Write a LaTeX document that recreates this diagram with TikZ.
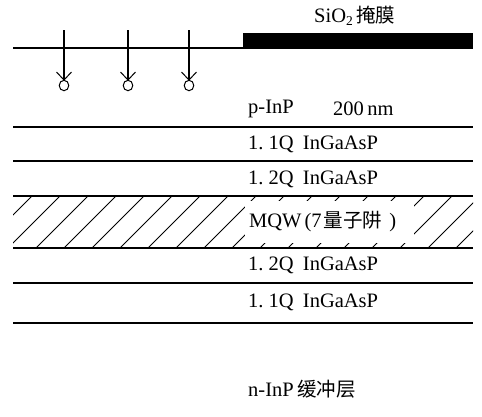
\documentclass[tikz,border=0pt]{standalone}
\usepackage{fontspec}
\setmainfont{Liberation Serif}
\newfontfamily\cjk{Noto Sans CJK SC}
\begin{document}
\begin{tikzpicture}[x=1pt,y=-1pt,
  layer/.style={line width=1.4pt},
  hatchline/.style={line width=0.9pt},
  beam/.style={line width=1.2pt},
  lbl/.style={anchor=west, inner sep=0pt, font=\fontsize{20.5}{24}\selectfont}]
\newcommand\cjktext[1]{{\fontsize{19.5}{24}\selectfont\cjk #1}}
\useasboundingbox (0,0) rectangle (482,416);

% surface and SiO2 mask
\coordinate (s0) at (13,48);
\coordinate (s1) at (243,48);
\draw[line width=1.3pt] (s0) -- (s1);
\fill (243,33) rectangle (473,49);
\node[lbl] (sio) at (314,16) {SiO\raisebox{-0.35ex}{\fontsize{13.5}{14}\selectfont 2}\,\cjktext{掩膜}};

% implantation arrows
\foreach \x/\n in {64/a,128/b,189/c}{
  \coordinate (\n top) at (\x,30);
  \coordinate (\n tip) at (\x,80);
  \coordinate (\n l) at (\x-7.5,72);
  \coordinate (\n r) at (\x+7.5,72);
  \draw[beam] (\n top) -- (\n tip);
  \draw[line width=1pt] (\n l) -- (\n tip) -- (\n r);
  \draw[line width=1pt] (\x,85.5) ellipse (4.8 and 5.2);
}

% hatched MQW region
\begin{scope}
  \clip (13,196) rectangle (473,248);
  \foreach \k in {0,...,18}
    \draw[hatchline] ({-20+28*\k},248) -- ({32+28*\k},196);
\end{scope}
\fill[white] (245,201) rectangle (414,243);

% layer boundaries
\foreach \y/\n in {127/l1,161/l2,196/l3,248/l4,283/l5,323/l6}{
  \coordinate (\n a) at (13,\y);
  \coordinate (\n b) at (473,\y);
  \draw[layer] (\n a) -- (\n b);
}

% labels
\node[lbl] (pinp) at (248,109) {p-InP};
\node[lbl] (thick) at (333,109) {200\,nm};
\node[lbl] (q11a) at (248,144) {1.\ 1Q\hspace{0.45em}InGaAsP};
\node[lbl] (q12a) at (248,179) {1.\ 2Q\hspace{0.45em}InGaAsP};
\node[lbl] (mqw) at (249,222) {MQW\hspace{0.15em}(7\hspace{0.1em}\cjktext{量子阱}\hspace{0.35em})};
\node[lbl] (q12b) at (248,265) {1.\ 2Q\hspace{0.45em}InGaAsP};
\node[lbl] (q11b) at (248,302) {1.\ 1Q\hspace{0.45em}InGaAsP};
\node[lbl] (ninp) at (248,389) {n-InP\,\cjktext{缓冲层}};
\end{tikzpicture}
\end{document}
